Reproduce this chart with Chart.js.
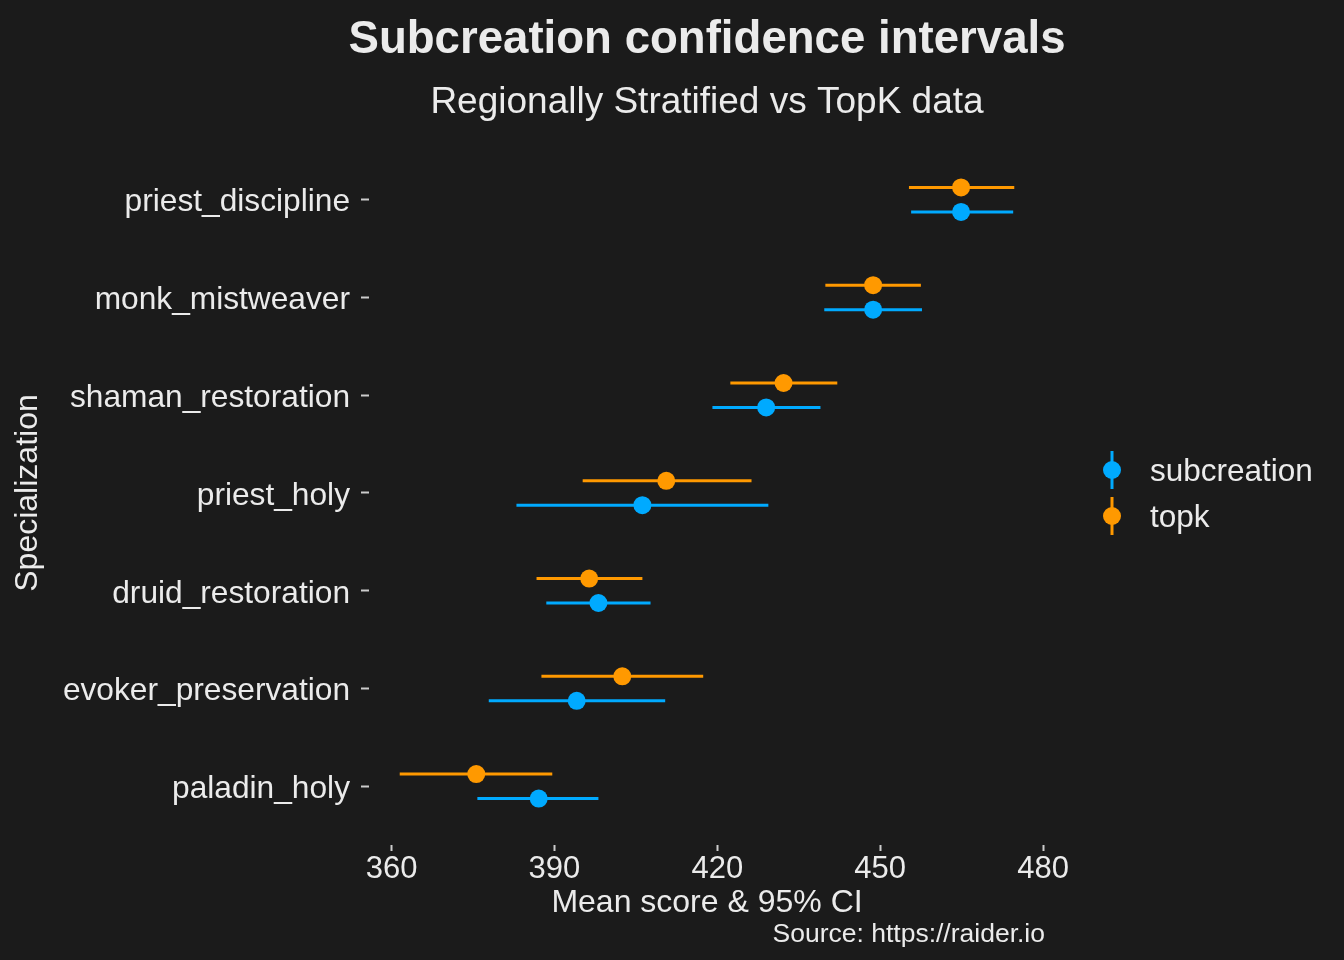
<!DOCTYPE html>
<html>
<head>
<meta charset="utf-8">
<title>Subcreation confidence intervals</title>
<script src="https://cdn.jsdelivr.net/npm/chart.js@4.4.0/dist/chart.umd.min.js"></script>
<style>
    html, body { margin: 0; padding: 0; background: #1b1b1b; }
    #wrap { width: 1344px; height: 960px; }
</style>
</head>
<body>
<div id="wrap"><canvas id="ciChart" width="1344" height="960"></canvas></div>
<script>
// categories from bottom to top, like the ggplot y axis
const specs = ['paladin_holy', 'evoker_preservation', 'druid_restoration', 'priest_holy',
    'shaman_restoration', 'monk_mistweaver', 'priest_discipline'];

const subMean = [387.1, 394.1, 398.1, 406.2, 429.0, 448.7, 464.9];
const subLow  = [375.8, 377.9, 388.5, 383.0, 419.1, 439.7, 455.7];
const subHigh = [398.1, 410.4, 407.7, 429.4, 439.0, 457.7, 474.5];

const topMean = [375.6, 402.5, 396.4, 410.6, 432.2, 448.7, 464.9];
const topLow  = [361.5, 387.6, 386.7, 395.2, 422.4, 439.9, 455.3];
const topHigh = [389.6, 417.4, 406.2, 426.3, 442.1, 457.5, 474.7];

const xTicks = [360, 390, 420, 450, 480];

const BG = '#1b1b1b';
const TEXT = '#ebebeb';
const FONT = '"Liberation Sans", Arial, sans-serif';
const BLUE = '#00aaff';
const ORANGE = '#ff9900';
const DODGE = 0.125;

const series = [
    { label: 'subcreation', color: BLUE, mean: subMean, low: subLow, high: subHigh, shift: -DODGE },
    { label: 'topk', color: ORANGE, mean: topMean, low: topLow, high: topHigh, shift: DODGE }
];

// 5% expansion on each side of the data range
const allVals = subLow.concat(subHigh, topLow, topHigh);
const dataMin = Math.min(...allVals);
const dataMax = Math.max(...allVals);
const pad = (dataMax - dataMin) * 0.05;

const errorBars = {
    id: 'errorBars',
    beforeDatasetsDraw(chart) {
        const { ctx, scales: { x, y } } = chart;
        ctx.save();
        ctx.lineWidth = 3;
        series.forEach(s => {
            ctx.strokeStyle = s.color;
            s.mean.forEach((m, i) => {
                const py = y.getPixelForValue(i + 1 + s.shift);
                ctx.beginPath();
                ctx.moveTo(x.getPixelForValue(s.low[i]), py);
                ctx.lineTo(x.getPixelForValue(s.high[i]), py);
                ctx.stroke();
            });
        });
        ctx.restore();
    }
};

function drawText(ctx, text, x, y, size, opts) {
    ctx.save();
    ctx.fillStyle = TEXT;
    ctx.font = (opts.bold ? 'bold ' : '') + size + 'px ' + FONT;
    ctx.textAlign = opts.align || 'left';
    ctx.textBaseline = 'middle';
    ctx.fillText(text, x, y);
    ctx.restore();
}

const extras = {
    id: 'extras',
    beforeDraw(chart) {
        const { ctx } = chart;
        ctx.save();
        ctx.fillStyle = BG;
        ctx.fillRect(0, 0, chart.width, chart.height);
        ctx.restore();
    },
    afterDraw(chart) {
        const { ctx, chartArea } = chart;
        const mid = (chartArea.left + chartArea.right) / 2;
        drawText(ctx, 'Subcreation confidence intervals', mid, 40, 45.6, { bold: true, align: 'center' });
        drawText(ctx, 'Regionally Stratified vs TopK data', mid, 103, 37, { align: 'center' });

        // legend with pointrange keys
        const lx = 1112;
        series.forEach((s, i) => {
            const cy = 470 + i * 46;
            ctx.save();
            ctx.strokeStyle = s.color;
            ctx.lineWidth = 3;
            ctx.beginPath();
            ctx.moveTo(lx, cy - 19);
            ctx.lineTo(lx, cy + 19);
            ctx.stroke();
            ctx.fillStyle = s.color;
            ctx.beginPath();
            ctx.arc(lx, cy, 9, 0, Math.PI * 2);
            ctx.fill();
            ctx.restore();
            drawText(ctx, s.label, 1150, cy + 2, 31.5, {});
        });

        drawText(ctx, 'Source: https://raider.io', 1045, 935, 26.5, { align: 'right' });
    }
};

new Chart(document.getElementById('ciChart'), {
    type: 'scatter',
    data: {
        datasets: series.map(s => ({
            label: s.label,
            data: s.mean.map((m, i) => ({ x: m, y: i + 1 + s.shift })),
            backgroundColor: s.color,
            borderWidth: 0,
            pointRadius: 9,
            pointHoverRadius: 9
        }))
    },
    options: {
        responsive: false,
        animation: false,
        layout: { padding: { left: 0, right: 299, top: 141, bottom: 0 } },
        plugins: {
            legend: { display: false },
            tooltip: { enabled: false }
        },
        scales: {
            x: {
                type: 'linear',
                min: dataMin - pad,
                max: dataMax + pad,
                afterBuildTicks(scale) {
                    scale.ticks = xTicks.map(v => ({ value: v }));
                },
                afterFit(scale) {
                    scale.height = 115;
                },
                border: { display: false },
                grid: { drawOnChartArea: false, drawTicks: true, tickLength: 6, tickColor: '#cccccc', tickWidth: 2 },
                ticks: { color: TEXT, font: { family: FONT, size: 31 }, padding: 0, maxRotation: 0 },
                title: {
                    display: true,
                    text: 'Mean score & 95% CI',
                    color: TEXT,
                    font: { family: FONT, size: 32 },
                    padding: { top: 0, bottom: 38 }
                }
            },
            y: {
                type: 'linear',
                min: 0.4,
                max: 7.6,
                afterBuildTicks(scale) {
                    scale.ticks = specs.map((c, i) => ({ value: i + 1 }));
                },
                afterFit(scale) {
                    scale.width = 369;
                },
                border: { display: false },
                grid: { drawOnChartArea: false, drawTicks: true, tickLength: 8, tickColor: '#cccccc', tickWidth: 2 },
                ticks: {
                    color: TEXT,
                    font: { family: FONT, size: 31.7 },
                    padding: 11,
                    labelOffset: 3,
                    callback: v => specs[v - 1]
                },
                title: {
                    display: true,
                    text: 'Specialization',
                    color: TEXT,
                    font: { family: FONT, size: 32 },
                    padding: { top: 9, bottom: 0 }
                }
            }
        }
    },
    plugins: [extras, errorBars]
});
</script>
</body>
</html>
